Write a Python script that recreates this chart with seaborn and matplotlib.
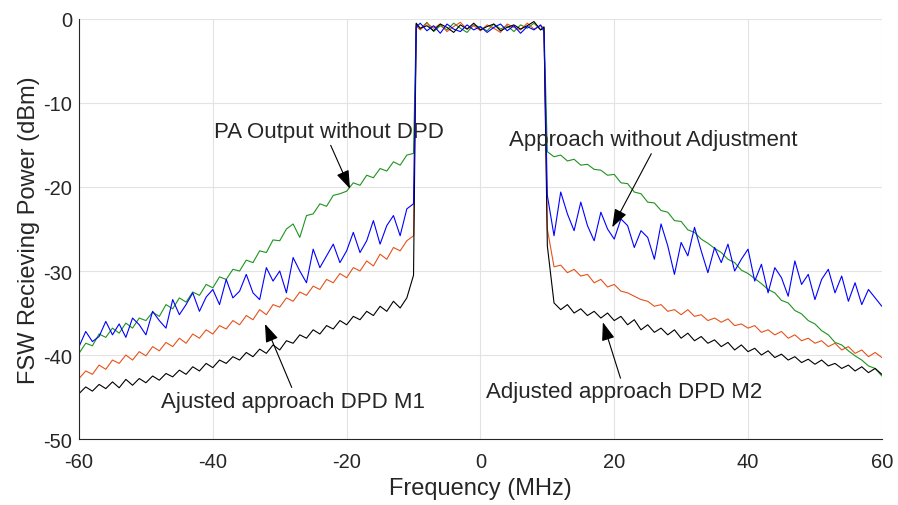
import numpy as np
import pandas as pd
import seaborn as sns
import matplotlib
matplotlib.use("Agg")
import matplotlib.pyplot as plt

# frequency grid (MHz): lower sideband, passband, upper sideband
freq = np.concatenate([np.arange(-60, -9), [-9.6], np.arange(-9, 10), [9.5], np.arange(10, 61)])

# values (dBm)
green_lo = [-39.8, -38.6, -38.9, -37.5, -37.9, -36.8, -37.4, -36.2, -36.8, -35.6,
            -35.9, -34.9, -35.4, -34.0, -34.5, -33.2, -33.7, -32.5, -32.9, -31.6,
            -32.0, -30.7, -31.0, -29.8, -30.0, -28.7, -29.0, -27.6, -27.8, -26.3,
            -26.4, -25.0, -24.4, -26.0, -23.4, -23.2, -22.0, -22.3, -21.0, -20.8,
            -20.5, -19.5, -19.8, -18.6, -18.9, -17.8, -18.1, -17.0, -17.4, -16.2, -16.0]
green_mid = [-0.6, -1.2, -0.4, -1.5, -0.8, -1.3, -0.5, -1.1, -1.6, -0.7, -1.0,
             -1.4, -0.6, -1.2, -0.8, -1.5, -0.7, -1.1, -0.5, -1.3, -0.9]
green_hi = [-15.8, -16.4, -16.2, -16.9, -16.7, -17.4, -17.3, -17.9, -18.0, -18.6,
            -18.5, -19.5, -19.6, -20.6, -20.8, -21.8, -21.9, -22.8, -23.0, -24.0,
            -24.1, -25.1, -25.4, -26.2, -26.7, -27.3, -27.8, -28.6, -29.0, -29.9,
            -30.3, -30.9, -31.5, -32.2, -32.6, -33.5, -33.8, -34.7, -35.1, -35.9,
            -36.3, -37.1, -37.6, -38.5, -38.8, -39.5, -40.1, -40.6, -41.3, -41.6, -42.5]

blue_lo = [-39.0, -37.2, -38.4, -37.8, -36.0, -37.6, -36.3, -37.9, -35.6, -36.4,
           -37.6, -34.8, -35.9, -36.8, -33.4, -35.2, -34.0, -32.6, -34.8, -33.1,
           -32.2, -34.0, -31.0, -33.2, -32.4, -30.4, -32.6, -33.4, -29.6, -31.2,
           -30.0, -32.6, -28.4, -30.0, -31.4, -27.4, -29.6, -28.2, -26.8, -29.0,
           -27.6, -25.4, -27.8, -26.4, -24.0, -26.8, -24.6, -23.4, -25.8, -22.6, -22.0]
blue_mid = [-1.0, -0.5, -1.4, -0.8, -1.7, -0.6, -1.2, -1.5, -0.7, -1.3, -0.9,
            -1.6, -1.0, -0.6, -1.4, -0.8, -1.7, -0.9, -1.3, -0.7, -1.5]
blue_hi = [-21.0, -25.8, -20.6, -23.2, -25.2, -21.8, -24.6, -26.4, -23.0, -25.0,
           -26.2, -23.8, -24.6, -27.2, -25.2, -26.0, -28.6, -24.4, -27.0, -30.4,
           -26.6, -28.2, -24.8, -27.6, -30.2, -27.2, -29.0, -26.8, -30.0, -28.6,
           -27.4, -31.2, -29.2, -32.6, -29.6, -30.8, -33.0, -28.8, -31.6, -30.4,
           -33.4, -31.0, -29.8, -32.6, -30.6, -33.6, -31.4, -34.0, -32.2, -33.2, -34.2]

orange_lo = [-42.8, -41.9, -42.3, -41.2, -41.7, -40.6, -41.0, -40.0, -40.6, -39.6,
             -40.1, -39.0, -39.5, -38.5, -39.0, -38.0, -38.6, -37.5, -38.0, -37.0,
             -37.5, -36.5, -36.9, -35.9, -36.4, -35.3, -35.8, -34.6, -35.2, -34.0,
             -34.3, -33.2, -33.6, -32.5, -32.9, -31.8, -32.2, -31.0, -31.4, -30.3,
             -30.8, -29.6, -30.0, -28.8, -29.4, -28.0, -28.6, -27.2, -27.6, -26.4, -25.8]
orange_mid = [-0.8, -1.3, -0.5, -1.1, -0.6, -1.5, -0.9, -0.4, -1.2, -0.8, -1.4,
              -0.7, -1.1, -1.6, -0.6, -1.0, -1.3, -0.5, -1.2, -0.8, -1.1]
orange_hi = [-25.0, -29.5, -29.3, -30.2, -29.8, -30.6, -30.4, -31.4, -31.0, -31.9,
             -31.6, -32.4, -32.6, -33.0, -33.4, -33.6, -34.2, -34.0, -34.8, -34.6,
             -35.2, -34.6, -35.4, -35.2, -35.9, -35.6, -36.1, -35.7, -36.5, -36.3,
             -36.8, -36.5, -37.3, -37.0, -37.6, -37.2, -38.0, -37.6, -38.3, -38.0,
             -38.6, -38.3, -39.0, -38.6, -39.4, -39.0, -39.8, -39.4, -40.2, -39.7, -40.3]

black_lo = [-44.6, -43.8, -44.3, -43.5, -44.0, -43.2, -43.9, -42.9, -43.6, -42.8,
            -43.3, -42.5, -43.0, -42.2, -42.6, -41.8, -42.3, -41.4, -41.9, -41.0,
            -41.5, -40.6, -41.0, -40.2, -40.6, -39.7, -40.2, -39.3, -39.8, -38.8,
            -39.4, -38.3, -38.6, -37.6, -38.0, -37.0, -37.5, -36.5, -36.9, -35.9,
            -36.4, -35.4, -35.8, -34.8, -35.3, -34.2, -34.8, -33.6, -34.4, -33.2, -30.5]
black_mid = [-0.5, -1.1, -0.8, -1.4, -0.6, -1.0, -1.6, -0.7, -1.2, -0.5, -1.3,
             -0.9, -0.6, -1.4, -1.0, -0.7, -1.2, -0.8, -0.3, -1.3, -1.0]
black_hi = [-27.0, -33.8, -34.6, -34.0, -35.0, -34.5, -35.3, -34.8, -35.6, -35.0,
            -35.9, -35.4, -36.4, -35.8, -37.0, -36.4, -37.3, -36.8, -37.6, -37.0,
            -38.0, -37.4, -38.3, -37.8, -38.6, -38.2, -39.0, -38.5, -39.4, -38.8,
            -39.6, -39.2, -40.0, -39.5, -40.3, -39.9, -40.6, -40.2, -40.9, -40.5,
            -41.1, -40.6, -41.3, -41.0, -41.6, -41.2, -41.9, -41.4, -42.1, -41.6, -42.3]

series = {
    "PA Output without DPD": green_lo + green_mid + green_hi,
    "Ajusted approach DPD M1": orange_lo + orange_mid + orange_hi,
    "Adjusted approach DPD M2": black_lo + black_mid + black_hi,
    "Approach without Adjustment": blue_lo + blue_mid + blue_hi,
}
colors = {
    "PA Output without DPD": "#1f931f",
    "Ajusted approach DPD M1": "#e5531a",
    "Adjusted approach DPD M2": "#000000",
    "Approach without Adjustment": "#0000ff",
}

df = pd.concat([pd.DataFrame({"freq": freq, "power": v, "name": k}) for k, v in series.items()])

sns.set_style("white")
plt.rcParams["font.family"] = ["Liberation Sans", "DejaVu Sans"]
plt.rcParams["axes.unicode_minus"] = False

fig = plt.figure(figsize=(8.98, 5.06), dpi=100)
ax = fig.add_axes([0.088, 0.1304, 0.894, 0.8301])

sns.lineplot(data=df, x="freq", y="power", hue="name", palette=colors,
             estimator=None, sort=False, linewidth=0.8, legend=False, ax=ax)

ax.set_xlim(-60, 60)
ax.set_ylim(-50, 0)
ax.set_xticks([-60, -40, -20, 0, 20, 40, 60])
ax.set_yticks([0, -10, -20, -30, -40, -50])
ax.grid(True, color="#e3e3e3", linewidth=0.8)
ax.set_axisbelow(True)
for s in ["top", "right"]:
    ax.spines[s].set_visible(False)
for s in ["left", "bottom"]:
    ax.spines[s].set_color("#262626")
    ax.spines[s].set_linewidth(0.8)
ax.tick_params(direction="in", length=5, width=0.8, color="#262626",
               labelsize=14.5, labelcolor="#262626")
ax.tick_params(axis="x", pad=9)
ax.tick_params(axis="y", pad=5)
ax.set_xlabel("Frequency (MHz)", fontsize=17, color="#262626", labelpad=5)
ax.set_ylabel("FSW Recieving Power (dBm)", fontsize=17, color="#262626", labelpad=2)

arrow = dict(arrowstyle="-|>,head_length=0.7,head_width=0.25", color="black", lw=0.8, shrinkA=0, shrinkB=0)
ax.annotate("PA Output without DPD", xy=(-19.5, -20.2), xytext=(-22.6, -13.4),
            fontsize=16, ha="center", va="center", arrowprops=dict(arrow, relpos=(0.5, 0)))
ax.annotate("Approach without Adjustment", xy=(19.7, -24.8), xytext=(25.8, -14.4),
            fontsize=16, ha="center", va="center", arrowprops=dict(arrow, relpos=(0.5, 0)))
ax.annotate("Ajusted approach DPD M1", xy=(-32.2, -36.3), xytext=(-28.0, -45.5),
            fontsize=16, ha="center", va="center", arrowprops=dict(arrow, relpos=(0.5, 1)))
ax.annotate("Adjusted approach DPD M2", xy=(18.3, -36.1), xytext=(21.5, -44.4),
            fontsize=16, ha="center", va="center", arrowprops=dict(arrow, relpos=(0.49, 1)))

fig.savefig("out.png", dpi=100)
